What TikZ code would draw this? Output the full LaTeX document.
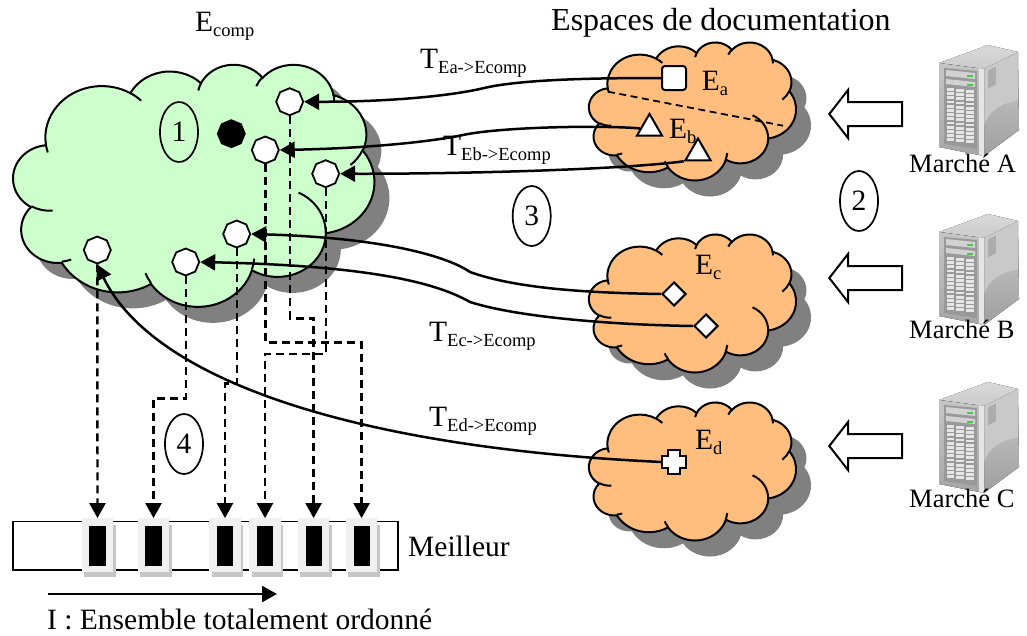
\documentclass[tikz,border=0pt]{standalone}
\usepackage{fontspec}
\setmainfont{Liberation Serif}
\usetikzlibrary{arrows.meta}
\usetikzlibrary{shapes}

\definecolor{cloudgreen}{HTML}{CCFFCC}
\definecolor{cloudorange}{HTML}{FFBE7D}
\definecolor{shadowgray}{HTML}{808080}

% arc given by its radii, start angle and sweep (angles as seen on the drawing)
\newcommand{\cloudarc}[4]{\pgfextra{%
    \pgfmathsetmacro\cloudst{atan2(#1*sin(#3),#2*cos(#3))}%
    \pgfmathsetmacro\clouden{atan2(#1*sin(#3+#4),#2*cos(#3+#4))}%
    \pgfmathsetmacro\clouddl{mod(\clouden-\cloudst+360,360)}%
    \xdef\cloudst{\cloudst}\xdef\clouddl{\clouddl}}%
    arc[start angle=\cloudst,delta angle=\clouddl,x radius=#1,y radius=#2]}
\newcommand{\cloudoutline}{(9.03,33.26)
    \cloudarc{15.63}{21.27}{-190.49}{123.78}
    \cloudarc{12.35}{16.82}{-144.10}{89.95}
    \cloudarc{10.10}{13.76}{-145.81}{99.72}
    \cloudarc{11.24}{15.27}{-130.99}{117.24}
    \cloudarc{12.35}{16.84}{-78.71}{109.03}
    \cloudarc{15.68}{21.34}{-46.27}{130.27}
    \cloudarc{13.39}{18.21}{0.63}{114.03}
    \cloudarc{15.63}{21.33}{22.45}{115.17}
    \cloudarc{17.87}{24.41}{66.24}{75.71}
    \cloudarc{10.09}{13.70}{-274.94}{146.74}
    \cloudarc{10.06}{13.76}{-246.83}{152.52} -- cycle}
% #1 left, #2 top, #3 width/100, #4 height/100, #5 colour
\newcommand{\cloudshape}[5]{
    \begin{scope}[shift={(#1+15,#2+16)},x=#3pt,y=-#4pt]
        \fill [shadowgray] \cloudoutline;
    \end{scope}
    \begin{scope}[shift={(#1,#2)},x=#3pt,y=-#4pt]
        \draw [cloud_style,fill=#5] \cloudoutline;
        \draw [cloud_style] (10.86,60.60) \cloudarc{10.06}{13.76}{86.74}{26.43};
        \draw [cloud_style] (16.04,80.78) \cloudarc{10.09}{13.70}{73.61}{11.45};
        \draw [cloud_style] (38.14,90.49) \cloudarc{15.63}{21.33}{137.62}{14.08};
        \draw [cloud_style] (66.73,80.44) \cloudarc{15.63}{21.33}{6.45}{16.00};
        \draw [cloud_style] (79.00,53.13) \cloudarc{13.39}{18.21}{-70.29}{70.92};
        \draw [cloud_style] (96.75,35.54) \cloudarc{12.35}{16.84}{30.32}{27.75};
        \draw [cloud_style] (88.71,12.56) \cloudarc{11.24}{15.27}{-13.74}{14.86};
        \draw [cloud_style] (67.31,9.15) \cloudarc{11.24}{15.27}{-149.18}{18.20};
        \draw [cloud_style] (51.25,10.93) \cloudarc{10.10}{13.76}{-163.49}{17.69};
        \draw [cloud_style] (32.41,12.02) \cloudarc{15.63}{21.27}{-66.71}{12.32};
        \draw [cloud_style] (9.55,36.55) \cloudarc{15.63}{21.27}{157.60}{11.90};
    \end{scope}
}
% server icon, #1 is the vertical offset
\newcommand{\serverbox}[1]{
    \begin{scope}[shift={(0,#1)}]
        \fill [top color=gray!30,bottom color=gray!40] (939,63) -- (988,45) -- (1018,52) -- (984,69) -- cycle;
        \fill [top color=gray!40,bottom color=gray!75] (984,69) -- (1018,52) -- (1019,130) -- (984,156) -- cycle;
        \fill [gray!42] (984,125) .. controls (992,105) and (1005,104) .. (1018,100) -- (1018,52) -- (984,69) -- cycle;
        \fill [top color=gray!45,bottom color=gray!70] (939,63) -- (984,69) -- (984,156) -- (939,147) -- cycle;
        \fill [gray!20] (984,69) -- (979,68) -- (979,155) -- (984,156) -- cycle;
        \fill [gray!80] (944,68) -- (977,71) -- (977,149) -- (944,144) -- cycle;
        \fill [gray!35] (946,70) -- (975,73) -- (975,79) -- (946,76) -- cycle;
        \fill [gray!35] (946,79) -- (975,82) -- (975,87) -- (946,84) -- cycle;
        \fill [green!70!black!70] (967,74.5) rectangle (973,77);
        \fill [green!70!black!70] (967,83.5) rectangle (973,86);
        \foreach \i in {0,...,12} {
            \fill [gray!20] (947,{88+4.2*\i}) rectangle (954,{90.8+4.2*\i});
            \fill [gray!20] (956,{89+4.2*\i}) rectangle (964,{91.8+4.2*\i});
            \fill [gray!20] (966,{90+4.2*\i}) rectangle (974,{92.8+4.2*\i});
        }
        \foreach \i in {0,...,3} {
            \draw [gray!65,line width=1.2pt] ({989+2*\i},{70-\i}) -- ({989+2*\i},{88-\i});
        }
    \end{scope}
}
\newcommand{\sbt}[1]{\raisebox{-5pt}{\fontsize{18.5}{19}\selectfont #1}}

\begin{document}
\begin{tikzpicture}[x=1pt, y=-1pt,
        cloud_style/.style={draw=black, line width=2pt},
        label_style/.style={anchor=base west, inner sep=0pt, font=\fontsize{29.5}{30}\selectfont},
        ellipse_style/.style={ellipse, draw=black, line width=1.7pt, minimum width=38pt, minimum height=60pt, inner sep=0pt, font=\fontsize{29.5}{30}\selectfont},
        octagon_style/.style={regular polygon, regular polygon sides=8, shape border rotate=22.5, draw=black, line width=1.8pt, fill=white, minimum size=27pt, inner sep=0pt},
        item_style/.style={draw=black, line width=2pt, fill=white, inner sep=0pt},
        edge_style/.style={draw=black, line width=2.5pt, -{Triangle[length=15pt,width=16pt]}},
        dash_style/.style={draw=black, line width=2.4pt, dash pattern=on 8pt off 5pt, -{Triangle[length=15pt,width=16pt]}}]

        \useasboundingbox (0,0) rectangle (1027,635);
        \fill [white] (0,0) rectangle (1027,635);

        \cloudshape{13.3}{64}{3.61}{2.42}{cloudgreen}
        \cloudshape{589}{42}{2.07}{1.38}{cloudorange}
        \cloudshape{589}{234}{2.07}{1.38}{cloudorange}
        \cloudshape{589}{402}{2.07}{1.38}{cloudorange}

        \serverbox{0}
        \serverbox{169}
        \serverbox{337}

        % block arrows
        \foreach \y in {114,278,446} {
            \draw [black, line width=2pt, fill=white] (829.3,\y) -- (848,\y-24) -- (848,\y-12) -- (902,\y-12) -- (902,\y+12) -- (848,\y+12) -- (848,\y+24) -- cycle;
        }

        % target points
        \node [octagon_style](n1) at (289.7,101.7) {};
        \node [octagon_style](n2) at (265.3,150) {};
        \node [octagon_style](n3) at (325.7,173.7) {};
        \node [octagon_style](n4) at (236.7,234) {};
        \node [octagon_style](n5) at (185.7,262) {};
        \node [octagon_style](n6) at (97.3,250) {};
        \node [octagon_style,fill=black](n7) at (231.3,133.7) {};

        % source points
        \node [item_style,rectangle,rounded corners=3pt,minimum size=24pt](ea) at (674,78) {};
        \node [item_style,regular polygon,regular polygon sides=3,minimum size=29pt](eb1) at (649.5,128.4) {};
        \node [item_style,regular polygon,regular polygon sides=3,minimum size=29pt](eb2) at (698,153) {};
        \node [item_style,diamond,minimum size=24pt](ec1) at (674,294) {};
        \node [item_style,diamond,minimum size=24pt](ec2) at (706,326) {};
        \node [inner sep=0pt,minimum size=24pt](ed) at (674,462) {};
        \draw [item_style] (668,450) -- (680,450) -- (680,456) -- (686,456) -- (686,468) -- (680,468) -- (680,474) -- (668,474) -- (668,468) -- (662,468) -- (662,456) -- (668,456) -- cycle;

        % ordered set
        \node [draw=black,line width=1.6pt,minimum width=385pt,minimum height=48.3pt,inner sep=0pt](bar) at (205.7,545.8) {};
        \foreach \i/\x in {1/97.5,2/153.5,3/225,4/265,5/313.6,6/361.6} {
            \fill [gray!45] (\x-13.3,525) rectangle (\x+18.3,577);
            \node [fill=gray!12,minimum width=31.6pt,minimum height=53.4pt,inner sep=0pt](s\i) at (\x,545) {};
            \node [fill=black,minimum width=16.2pt,minimum height=40pt,inner sep=0pt](b\i) at (\x,546) {};
        }

        % transformations
        \draw [edge_style] (ea.west) .. controls (600,78) and (520,79) .. (482,88.5) .. controls (445,97) and (380,102) .. (n1.east);
        \draw [edge_style] (eb1.west) .. controls (600,125) and (500,127) .. (463,135) .. controls (440,140) and (380,148) .. (n2.east);
        \draw [edge_style] (eb2.corner 2) .. controls (620,170) and (450,174) .. (n3.east);
        \draw [edge_style] (ec1.west) .. controls (600,293) and (520,290) .. (470,272) .. controls (450,258) and (390,238) .. (n4.east);
        \draw [edge_style] (ec2.west) .. controls (620,325) and (520,318) .. (470,302) .. controls (440,285) and (380,266) .. (n5.east);
        \draw [edge_style] (ed.west) .. controls (340,447) and (150,375) .. (n6.south);

        % projections on the ordered set
        \draw [dash_style] (n1.south) -- (289.7,318.3) -- (313.6,318.3) -- (s5.north);
        \draw [dash_style] (n2.south) -- (265.3,342.3) -- (361.6,342.3) -- (s6.north);
        \draw [dash_style] (n3.south) -- (325.7,354) -- (265,354) -- (s4.north);
        \draw [dash_style] (n4.south) -- (236.7,383.3) -- (225,383.3) -- (s3.north);
        \draw [dash_style] (n5.south) -- (185.7,398.3) -- (153.5,398.3) -- (s2.north);
        \draw [dash_style] (n6.south) -- (s1.north);

        % split of the first space
        \coordinate (split_a) at (608,91.7);
        \coordinate (split_b) at (783,125.7);
        \draw [black, line width=1.8pt, dash pattern=on 7pt off 4.5pt] (split_a) -- (split_b);

        % direction of the order
        \coordinate (order_a) at (48,594);
        \coordinate (order_b) at (277,594);
        \draw [edge_style] (order_a) -- (order_b);

        \node [ellipse_style](c1) at (179,132) {1};
        \node [ellipse_style](c2) at (859,201) {2};
        \node [ellipse_style](c3) at (531.7,216) {3};
        \node [ellipse_style](c4) at (184,444) {4};

        \node [label_style](t_comp) at (195,31.7) {E\sbt{comp}};
        \node [label_style,font=\fontsize{32}{33}\selectfont](t_esp) at (551,30) {Espaces de documentation};
        \node [label_style](t_a) at (420,68) {T\sbt{Ea->Ecomp}};
        \node [label_style](t_b) at (443,155.7) {T\sbt{Eb->Ecomp}};
        \node [label_style](t_c) at (429,341.7) {T\sbt{Ec->Ecomp}};
        \node [label_style](t_d) at (429,426) {T\sbt{Ed->Ecomp}};
        \node [label_style](l_a) at (701.7,90) {E\sbt{a}};
        \node [label_style](l_b) at (669,138) {E\sbt{b}};
        \node [label_style](l_c) at (695,274) {E\sbt{c}};
        \node [label_style](l_d) at (695,449) {E\sbt{d}};
        \node [label_style,font=\fontsize{26.5}{27}\selectfont](m_a) at (909,172) {Marché A};
        \node [label_style,font=\fontsize{26.5}{27}\selectfont](m_b) at (909,338) {Marché B};
        \node [label_style,font=\fontsize{26.5}{27}\selectfont](m_c) at (909,507) {Marché C};
        \node [label_style](best) at (408,556.7) {Meilleur};
        \node [label_style](order) at (47,629) {I : Ensemble totalement ordonné};
\end{tikzpicture}
\end{document}
